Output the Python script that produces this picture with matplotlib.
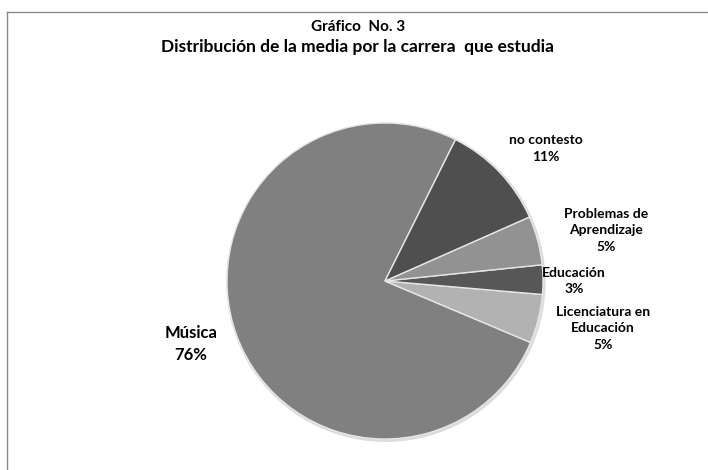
import matplotlib
matplotlib.use("Agg")
import matplotlib.pyplot as plt
from matplotlib.lines import Line2D

# Data
categories = ["Música", "Licenciatura en\nEducación", "Educación", "Problemas de\nAprendizaje", "no contesto"]
percentages = [76, 5, 3, 5, 11]
colors = ["#808080", "#b2b2b2", "#575757", "#929292", "#4f4f4f"]
title_lines = ["Gráfico  No. 3", "Distribución de la media por la carrera  que estudia"]

# label positions (in pie-radius units)
label_pos = [(-1.23, -0.40), (1.38, -0.30), (1.195, 0.0), (1.40, 0.32), (1.02, 0.84)]
label_sizes = [12, 10, 10, 10, 10]

plt.rcParams['font.family'] = ['Lato', 'DejaVu Sans']

W, H = 708, 470
fig = plt.figure(figsize=(W / 100, H / 100), dpi=100)
cx, cy, R = 385, 281, 158
ax = fig.add_axes([0, 0, 1, 1])

# subtle shadow
shadow = plt.Circle((0.006, -0.008), 1.006, color="#dcdcdc", zorder=0)
ax.add_patch(shadow)

wedges, _ = ax.pie(percentages, colors=colors, startangle=63.5, counterclock=True,
                   radius=1.0, center=(0, 0), frame=True,
                   wedgeprops=dict(edgecolor="#e6e6e6", linewidth=1.0))
ax.set_xlim(-cx / R, (W - cx) / R)
ax.set_ylim(-(H - cy) / R, cy / R)
ax.set_aspect('equal')
ax.axis('off')

for cat, pct, (lx, ly), fs in zip(categories, percentages, label_pos, label_sizes):
    ax.text(lx, ly, f"{cat}\n{pct}%", ha='center', va='center', fontsize=fs,
            fontweight='bold', linespacing=1.45, color="#000000")

fig.text(358 / W, 1 - 27 / H, title_lines[0], ha='center', va='center',
         fontsize=11, fontweight='bold')
fig.text(358 / W, 1 - 47 / H, title_lines[1], ha='center', va='center',
         fontsize=12.5, fontweight='bold')

# chart-area border (left and top visible)
fig.add_artist(Line2D([7 / W, 7 / W], [0, 1 - 12 / H], transform=fig.transFigure,
                      color="#8a8a8a", linewidth=1))
fig.add_artist(Line2D([7 / W, 1], [1 - 12 / H, 1 - 12 / H], transform=fig.transFigure,
                      color="#8a8a8a", linewidth=1))

fig.savefig("out.png", dpi=100)
